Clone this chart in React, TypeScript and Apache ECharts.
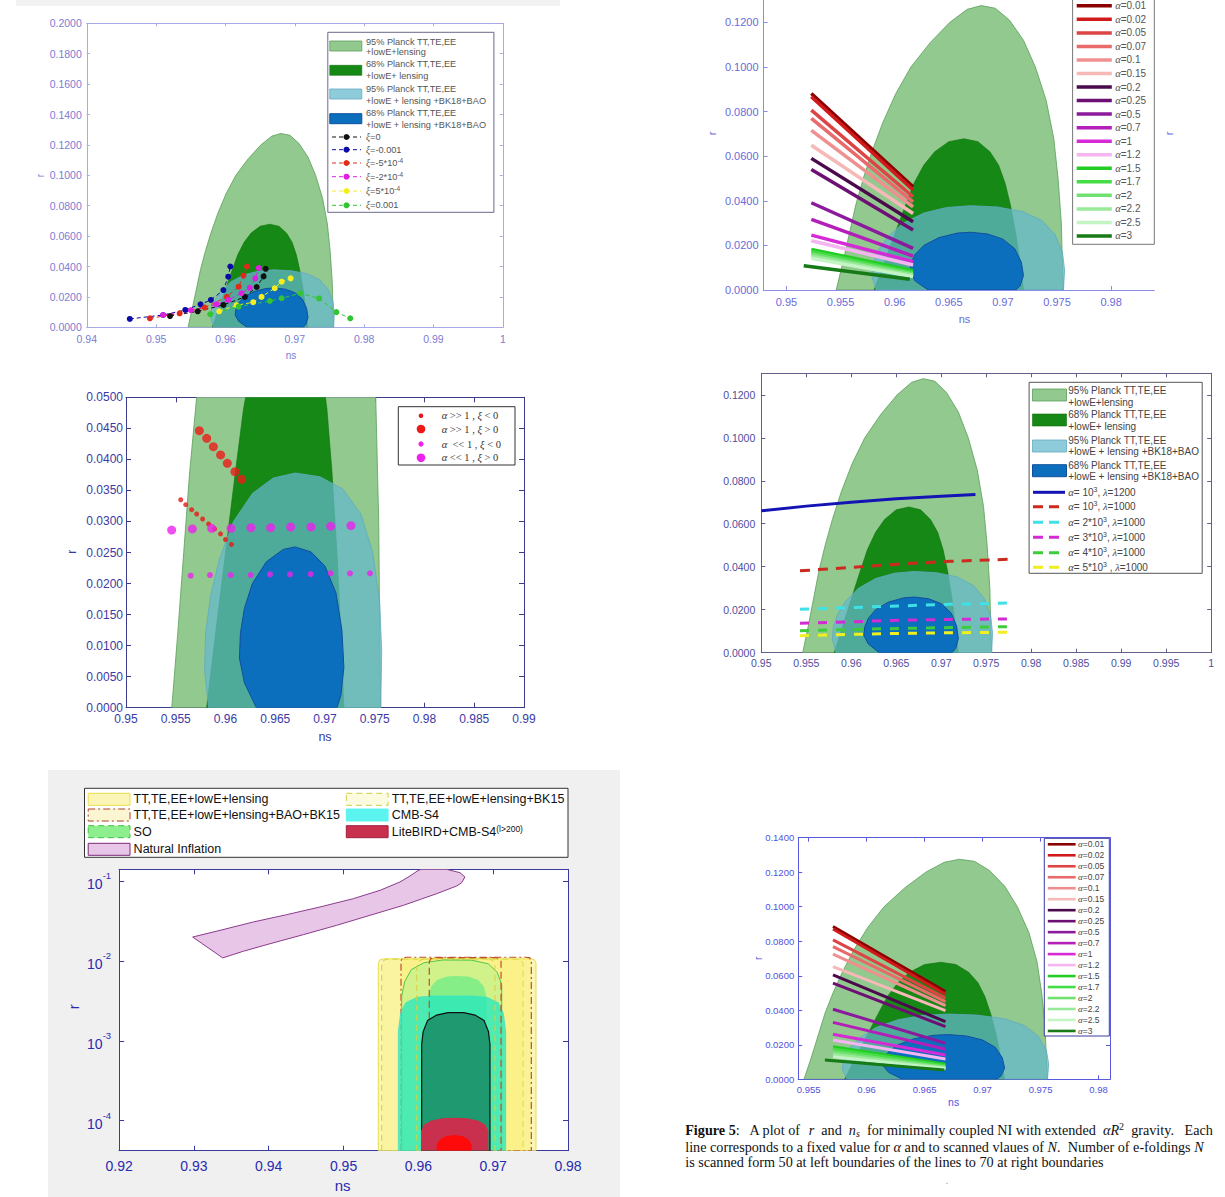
import React, { useEffect, useRef } from "react";
import * as echarts from "echarts";

type P = [number, number];

// ---------- Planck contours (ns, r) ----------
const planckTT95: P[] = [[0.9546,0],[0.9552,0.012],[0.9558,0.025],[0.9564,0.038],[0.9571,0.050],[0.9579,0.062],[0.9589,0.075],[0.9601,0.088],[0.9615,0.100],[0.9633,0.111],[0.9651,0.120],[0.9667,0.1258],[0.9680,0.1275],[0.9693,0.1263],[0.9706,0.121],[0.9719,0.112],[0.9730,0.100],[0.9740,0.085],[0.9747,0.068],[0.9751,0.050],[0.9754,0.030],[0.9755,0.012],[0.9756,0]];
const planckTT68: P[] = [[0.9581,0],[0.9590,0.012],[0.9600,0.025],[0.9610,0.038],[0.9618,0.048],[0.9627,0.056],[0.9637,0.062],[0.9650,0.0665],[0.9664,0.0678],[0.9677,0.0665],[0.9688,0.062],[0.9696,0.056],[0.9702,0.048],[0.9707,0.038],[0.9712,0.025],[0.9716,0.012],[0.9719,0]];
const planckBK95: P[] = [[0.9583,0],[0.9579,0.006],[0.9580,0.012],[0.9585,0.018],[0.9594,0.024],[0.9608,0.030],[0.9627,0.0345],[0.9648,0.0370],[0.9670,0.0378],[0.9695,0.0372],[0.9718,0.0352],[0.9736,0.0312],[0.9748,0.0250],[0.9755,0.0170],[0.9757,0.0090],[0.9756,0]];
const planckBK68: P[] = [[0.9631,0],[0.9619,0.004],[0.9614,0.008],[0.9615,0.012],[0.9619,0.016],[0.9627,0.020],[0.9641,0.0235],[0.9658,0.0255],[0.9670,0.0259],[0.9686,0.0251],[0.9700,0.0228],[0.9711,0.0185],[0.9717,0.0125],[0.9719,0.0065],[0.9716,0.002],[0.9712,0]];

// ---------- Panel A (xi) ----------
const xiZero: P[] = [[0.9520,0.0074],[0.9560,0.0105],[0.9597,0.0147],[0.9628,0.0200],[0.9645,0.0265],[0.9655,0.0335],[0.9658,0.0385]];
const xiM001: P[] = [[0.9462,0.0055],[0.9510,0.0081],[0.9542,0.0114],[0.9564,0.0151],[0.9579,0.0180],[0.9597,0.0245],[0.9604,0.0333],[0.9607,0.0400]];
const xiM5e4: P[] = [[0.9491,0.0059],[0.9534,0.0092],[0.9570,0.0130],[0.9602,0.0200],[0.9619,0.0267],[0.9626,0.0340],[0.9631,0.0400]];
const xiM2e4: P[] = [[0.9510,0.0081],[0.9550,0.0112],[0.9587,0.0151],[0.9604,0.0180],[0.9623,0.0224],[0.9635,0.0260],[0.9643,0.0322],[0.9648,0.0390]];
const xiP5e4: P[] = [[0.9591,0.0105],[0.9616,0.0145],[0.9640,0.0165],[0.9652,0.0200],[0.9671,0.0257],[0.9681,0.0300],[0.9694,0.0322]];
const xiP001: P[] = [[0.9578,0.0086],[0.9619,0.0136],[0.9664,0.0173],[0.9681,0.0191],[0.9708,0.0224],[0.9735,0.0190],[0.9760,0.0100],[0.9780,0.0059]];
const xiSeries = [xiZero, xiM001, xiM5e4, xiM2e4, xiP5e4, xiP001];
const xiColors = ["#111111", "#0a0aa8", "#e02a1a", "#e020e0", "#f2ee20", "#33c433"];
const xiLabels = ["{i|ξ}=0", "{i|ξ}=-0.001", "{i|ξ}=-5*10{s|-4}", "{i|ξ}=-2*10{s|-4}", "{i|ξ}=5*10{s|-4}", "{i|ξ}=0.001"];

// ---------- Panels B and F (alpha R^2 lines) ----------
const alphaLabels = ["0.01","0.02","0.05","0.07","0.1","0.15","0.2","0.25","0.5","0.7","1","1.2","1.5","1.7","2","2.2","2.5","3"];
const alphaColors = ["#8b0000","#d11a1a","#dd4444","#e86a6a","#f08f8f","#f7b8b8","#4b0a4b","#6e0f73","#8c1a9c","#b31fb8","#d62ad6","#f5b5f0","#22cc22","#45dd45","#70e070","#98ea98","#c4f4c4","#167a16"];
const bNsStart = [0.9523,0.9523,0.9523,0.9523,0.9523,0.9523,0.9523,0.9523,0.9523,0.9523,0.9523,0.9523,0.9523,0.9523,0.9523,0.9523,0.9523,0.9516];
const bNsEnd = [0.9617,0.9617,0.9617,0.9617,0.9617,0.9617,0.9617,0.9617,0.9617,0.9617,0.9617,0.9617,0.9617,0.9617,0.9617,0.9617,0.9617,0.9614];
const bRStart = [0.0881,0.0866,0.0806,0.0769,0.0716,0.0649,0.0590,0.0540,0.0391,0.0317,0.0246,0.0221,0.0182,0.0172,0.0161,0.0152,0.0142,0.0109];
const bREnd = [0.0463,0.0448,0.0418,0.0395,0.0373,0.0343,0.0306,0.0269,0.0187,0.0152,0.0127,0.0112,0.0087,0.0078,0.0072,0.0066,0.0060,0.0048];
const fNsStart = [0.9571,0.9571,0.9571,0.9571,0.9571,0.9571,0.9571,0.9571,0.9571,0.9571,0.9571,0.9571,0.9571,0.9571,0.9571,0.9571,0.9571,0.9564];
const fNsEnd = [0.9668,0.9668,0.9668,0.9668,0.9668,0.9668,0.9668,0.9668,0.9668,0.9668,0.9668,0.9668,0.9668,0.9668,0.9668,0.9668,0.9668,0.9667];
const fRStart = [0.0885,0.0871,0.0808,0.0769,0.0725,0.0653,0.0605,0.0557,0.0406,0.0330,0.0261,0.0228,0.0189,0.0176,0.0160,0.0145,0.0131,0.0112];
const fREnd = [0.0508,0.0493,0.0470,0.0450,0.0427,0.0398,0.0334,0.0305,0.0209,0.0174,0.0141,0.0118,0.0087,0.0079,0.0071,0.0067,0.0061,0.0054];

// ---------- Panel C (points) ----------
const cRedSmallNs = [0.9555,0.9560,0.9566,0.9571,0.9577,0.9583,0.9589,0.9595,0.9600,0.9606];
const cRedSmallR = [0.0335,0.0327,0.0319,0.0312,0.0304,0.0296,0.0288,0.0280,0.0271,0.0263];
const cRedBigNs = [0.95737,0.95811,0.95878,0.95951,0.96018,0.96095,0.96162];
const cRedBigR = [0.04462,0.04339,0.04205,0.04071,0.03937,0.03802,0.03679];
const cMagSmallNs = [0.9565,0.95844,0.96052,0.96253,0.96447,0.96648,0.96856,0.97057,0.97251,0.97452];
const cMagSmallR = [0.02126,0.02137,0.02137,0.02137,0.02148,0.02148,0.02153,0.02164,0.02164,0.02164];
const cMagBigNs = [0.95459,0.95667,0.95861,0.96055,0.96256,0.96454,0.96655,0.96859,0.97057,0.97261];
const cMagBigR = [0.02862,0.02879,0.0289,0.0289,0.0290,0.0290,0.02911,0.02911,0.02922,0.02932];

// ---------- Panel D (lambda lines) ----------
const dBlueNs = [0.950,0.955,0.960,0.965,0.970,0.9738];
const dBlueR = [0.0660,0.0682,0.0700,0.0716,0.0728,0.0736];
const dNs = [0.9543,0.960,0.9655,0.971,0.9776];
const dRed = [0.0381,0.0397,0.0413,0.0425,0.0435];
const dCyan = [0.0202,0.0210,0.0218,0.0225,0.0231];
const dMag = [0.0137,0.0144,0.0151,0.0155,0.0157];
const dGreen = [0.0102,0.0108,0.0113,0.0117,0.0121];
const dYellow = [0.0079,0.0085,0.0090,0.0093,0.0095];

// ---------- Panel E (log r) ----------
const eLens95: P[] = [[0.95465,4.2e-5],[0.95465,0.0095],[0.95485,0.0103],[0.95535,0.0106],[0.97502,0.0106],[0.97552,0.0103],[0.97572,0.0095],[0.97572,4.2e-5]];
const eBk95: P[] = [[0.9551,4.2e-5],[0.9551,0.0092],[0.9553,0.0101],[0.9558,0.0105],[0.9733,0.0105],[0.9738,0.0101],[0.9740,0.0092],[0.9740,4.2e-5]];
const eBao95: P[] = [[0.95768,4.2e-5],[0.95768,0.0100],[0.95790,0.0109],[0.95840,0.0111],[0.97440,0.0111],[0.97490,0.0109],[0.97510,0.0100],[0.97510,4.2e-5]];
const eBk68: P[] = [[0.95978,4.2e-5],[0.95978,0.0085],[0.96010,0.0100],[0.96080,0.0107],[0.96940,0.0107],[0.97000,0.0100],[0.97024,0.0085],[0.97024,4.2e-5]];
const eBao68: P[] = [[0.96146,4.2e-5],[0.96146,0.0098],[0.96170,0.0107],[0.96220,0.0110],[0.97040,0.0110],[0.97085,0.0107],[0.97105,0.0098],[0.97105,4.2e-5]];
const eSO95: P[] = [[0.95777,4.2e-5],[0.95777,0.0036],[0.95817,0.0055],[0.95907,0.0078],[0.96077,0.0095],[0.96327,0.01026],[0.96714,0.0102],[0.96934,0.0092],[0.97054,0.0072],[0.97114,0.0050],[0.97114,4.2e-5]];
const eSO68: P[] = [[0.96133,4.2e-5],[0.96133,0.0035],[0.96173,0.0048],[0.96253,0.0058],[0.96383,0.0064],[0.96523,0.00647],[0.96663,0.0064],[0.96793,0.0058],[0.96873,0.0048],[0.96913,0.0035],[0.96913,4.2e-5]];
const eS495: P[] = [[0.95732,4.2e-5],[0.95732,0.0013],[0.95762,0.0022],[0.95832,0.0030],[0.95982,0.0035],[0.96182,0.00364],[0.96717,0.00364],[0.96917,0.0035],[0.97067,0.0030],[0.97137,0.0022],[0.97167,0.0013],[0.97167,4.2e-5]];
const eS468: P[] = [[0.96044,4.2e-5],[0.96044,0.0009],[0.96064,0.0013],[0.96124,0.0018],[0.96244,0.0021],[0.96394,0.00225],[0.96607,0.00225],[0.96757,0.0021],[0.96877,0.0018],[0.96937,0.0013],[0.96957,0.0009],[0.96957,4.2e-5]];
const eLB95: P[] = [[0.96035,4.2e-5],[0.96035,7.5e-5],[0.96075,8.9e-5],[0.96165,1.0e-4],[0.96315,1.07e-4],[0.96485,1.09e-4],[0.96655,1.07e-4],[0.96805,1.0e-4],[0.96895,8.9e-5],[0.96935,7.5e-5],[0.96935,4.2e-5]];
const eLB68: P[] = [[0.96245,4.2e-5],[0.96245,5.0e-5],[0.96285,5.8e-5],[0.96365,6.4e-5],[0.96479,6.6e-5],[0.96593,6.4e-5],[0.96673,5.8e-5],[0.96713,5.0e-5],[0.96713,4.2e-5]];
const eNatural: P[] = [[0.92983,0.0199],[0.93349,0.0241],[0.93794,0.0307],[0.94240,0.0379],[0.94685,0.0473],[0.95131,0.0601],[0.95487,0.0764],[0.95754,0.0972],[0.95888,0.1155],[0.96000,0.1360],[0.96040,0.1401],[0.96378,0.1401],[0.96557,0.1270],[0.96623,0.1122],[0.96579,0.0953],[0.96512,0.0866],[0.96245,0.0694],[0.95799,0.0496],[0.95354,0.0372],[0.94909,0.0279],[0.94462,0.0213],[0.94017,0.0164],[0.93660,0.0132],[0.93385,0.0109]];

// ---------- tick labels ----------
const ticksAx = [0.94,0.95,0.96,0.97,0.98,0.99,1];
const ticksAy = [0,0.02,0.04,0.06,0.08,0.1,0.12,0.14,0.16,0.18,0.2];
const ticksBx = [0.95,0.955,0.96,0.965,0.97,0.975,0.98];
const ticksBy = [0,0.02,0.04,0.06,0.08,0.1,0.12];
const ticksCx = [0.95,0.955,0.96,0.965,0.97,0.975,0.98,0.985,0.99];
const ticksCy = [0,0.005,0.01,0.015,0.02,0.025,0.03,0.035,0.04,0.045,0.05];
const ticksDx = [0.95,0.955,0.96,0.965,0.97,0.975,0.98,0.985,0.99,0.995,1];
const ticksDy = [0,0.02,0.04,0.06,0.08,0.1,0.12];
const ticksEx = [0.92,0.93,0.94,0.95,0.96,0.97,0.98];
const ticksFx = [0.955,0.96,0.965,0.97,0.975,0.98];
const ticksFy = [0,0.02,0.04,0.06,0.08,0.1,0.12,0.14];

const SANS = "'Liberation Sans', Arial, sans-serif";
const SERIF = "'Liberation Serif', 'DejaVu Serif', serif";

const C95 = { fill: "#92c98e", stroke: "#5a9e5a", lineWidth: 0.8 };
const C68 = { fill: "#168816", stroke: "#0f700f", lineWidth: 0.6 };
const CB95 = { fill: "rgba(100,185,205,0.72)", stroke: "#62aac2", lineWidth: 0.8 };
const CB68 = { fill: "#0b6fbd", stroke: "#114f9e", lineWidth: 1 };

const fmtX = (v: number) => String(parseFloat(Number(v).toFixed(4)));
const fmtY4 = (v: number) => Number(v).toFixed(4);

function mkAxes(p: number, s: any) {
  const line = { show: true, onZero: false, lineStyle: { color: s.axisColor, width: 1 } };
  const tick = (vals: any) => {
    const t: any = { show: true, inside: true, length: s.tickLen, lineStyle: { color: s.axisColor, width: 1 } };
    if (vals) t.customValues = vals;
    return t;
  };
  const lab = (vals: any, fmt: any, margin: number) => {
    const l: any = { show: true, color: s.labelColor, fontSize: s.fontSize, fontFamily: SANS, margin, formatter: fmt };
    if (vals) l.customValues = vals;
    if (s.rich) l.rich = s.rich;
    return l;
  };
  const base = { gridIndex: p, splitLine: { show: false } };
  const xb: any = { ...base, type: "value", position: "bottom", min: s.xmin, max: s.xmax, axisLine: line, axisTick: tick(s.xt), axisLabel: lab(s.xt, fmtX, s.xMargin) };
  const xt: any = { ...base, type: "value", position: "top", min: s.xmin, max: s.xmax, show: s.box, axisLine: line, axisTick: tick(s.xt), axisLabel: { show: false } };
  const yType = s.ylog ? { type: "log", logBase: 10 } : { type: "value" };
  const yl: any = { ...base, ...yType, position: "left", min: s.ymin, max: s.ymax, axisLine: line, axisTick: tick(s.ylog ? null : s.yt), axisLabel: lab(s.ylog ? null : s.yt, s.yfmt || fmtY4, s.yMargin) };
  const yr: any = { ...base, ...yType, position: "right", min: s.ymin, max: s.ymax, show: s.box, axisLine: line, axisTick: tick(s.ylog ? null : s.yt), axisLabel: { show: false } };
  return { x: [xb, xt], y: [yl, yr] };
}

function poly(p: number, pts: P[], style: any, z = 2) {
  return {
    type: "custom", xAxisIndex: 2 * p, yAxisIndex: 2 * p, clip: true, silent: true, z,
    data: [[pts[0][0], pts[0][1]]],
    renderItem: (_params: any, api: any) => ({
      type: "polygon",
      shape: { points: pts.map((q) => api.coord(q)) },
      style,
    }),
  };
}

function planck(p: number) {
  return [poly(p, planckTT95, C95, 1), poly(p, planckTT68, C68, 1), poly(p, planckBK95, CB95, 1), poly(p, planckBK68, CB68, 1)];
}

function lineS(p: number, data: any[], color: string, width: number, type: any = "solid", extra: any = {}) {
  return {
    type: "line", xAxisIndex: 2 * p, yAxisIndex: 2 * p, data, silent: true, z: 5,
    symbol: "none", showSymbol: false,
    lineStyle: { color, width, type, cap: "butt" },
    ...extra,
  };
}

function zip(a: number[], b: number[]) {
  return a.map((v, i) => [v, b[i]]);
}

// ---------- graphic helpers ----------
function txt(x: number, y: number, text: string, o: any = {}) {
  return {
    type: "text", x, y, z: 60, rotation: o.rot || 0, silent: true,
    style: {
      text, fill: o.fill || "#333", fontSize: o.size || 10, fontFamily: o.family || SANS,
      fontStyle: o.style || "normal", fontWeight: o.weight || "normal",
      align: o.align || "left", verticalAlign: "middle", lineHeight: o.lh, rich: o.rich,
    },
  };
}
function rect(x: number, y: number, w: number, h: number, style: any, z = 55) {
  return { type: "rect", z, silent: true, shape: { x, y, width: w, height: h }, style };
}
function seg(x1: number, y1: number, x2: number, y2: number, style: any, z = 58) {
  return { type: "line", z, silent: true, shape: { x1, y1, x2, y2 }, style };
}
function dot(cx: number, cy: number, r: number, fill: string, z = 59) {
  return { type: "circle", z, silent: true, shape: { cx, cy, r }, style: { fill } };
}

function buildOption() {
  const specs: any[] = [
    { xmin: 0.94, xmax: 1, ymin: 0, ymax: 0.2, xt: ticksAx, yt: ticksAy, axisColor: "#a9a9e6", labelColor: "#7c7cd2", fontSize: 10.5, tickLen: 3, xMargin: 6, yMargin: 5, box: true },
    { xmin: 0.94789, xmax: 0.98399, ymin: 0, ymax: 0.13, xt: ticksBx, yt: ticksBy, axisColor: "#8c8ce6", labelColor: "#6a6ad8", fontSize: 11, tickLen: 4, xMargin: 6, yMargin: 5, box: false },
    { xmin: 0.95, xmax: 0.99, ymin: 0, ymax: 0.05, xt: ticksCx, yt: ticksCy, axisColor: "#3c3c8c", labelColor: "#3a3aa6", fontSize: 12, tickLen: 5, xMargin: 5, yMargin: 3, box: true },
    { xmin: 0.95, xmax: 1, ymin: 0, ymax: 0.13, xt: ticksDx, yt: ticksDy, axisColor: "#606088", labelColor: "#4e4e9e", fontSize: 10.5, tickLen: 4, xMargin: 5, yMargin: 6, box: true },
    {
      xmin: 0.92, xmax: 0.98, ymin: 4.21e-5, ymax: 0.1401, ylog: true, xt: ticksEx, axisColor: "#3a3a9e", labelColor: "#2a2ab0", fontSize: 14, tickLen: 5, xMargin: 8, yMargin: 8, box: true,
      yfmt: (v: number) => {
        const e = Math.log10(v);
        const r = Math.round(e);
        return Math.abs(e - r) < 1e-6 ? "{b|10}{s|" + r + "}" : "";
      },
      rich: {
        b: { fontSize: 14, color: "#2a2ab0", fontFamily: SANS, lineHeight: 20, verticalAlign: "bottom" },
        s: { fontSize: 9.5, color: "#2a2ab0", fontFamily: SANS, lineHeight: 10, verticalAlign: "top" },
      },
    },
    { xmin: 0.9541, xmax: 0.98099, ymin: 0, ymax: 0.14, xt: ticksFx, yt: ticksFy, axisColor: "#5a5ae0", labelColor: "#5252de", fontSize: 9.5, tickLen: 4, xMargin: 5, yMargin: 4, box: true },
  ];
  const grids = [
    { left: 86.8, top: 23.3, width: 416, height: 304 },
    { left: 763.6, top: 0, width: 390.7, height: 290 },
    { left: 126, top: 397.3, width: 398, height: 310.4 },
    { left: 761.3, top: 373.3, width: 449.9, height: 279.4 },
    { left: 119.1, top: 869.3, width: 448.9, height: 281.4, show: true, backgroundColor: "#ffffff", borderWidth: 0 },
    { left: 798.2, top: 837.7, width: 311.8, height: 241.6 },
  ].map((g) => ({ ...g, containLabel: false, outerBoundsMode: "none" }));

  const xAxis: any[] = [];
  const yAxis: any[] = [];
  specs.forEach((s, p) => {
    const a = mkAxes(p, s);
    xAxis.push(...a.x);
    yAxis.push(...a.y);
  });

  const series: any[] = [];
  // Panel A
  series.push(...planck(0));
  xiSeries.forEach((d, i) => {
    series.push(lineS(0, d, xiColors[i], 1, [4, 3], { symbol: "circle", showSymbol: true, symbolSize: 6, itemStyle: { color: xiColors[i] } }));
  });
  // Panel B
  series.push(...planck(1));
  alphaColors.forEach((c, i) => {
    series.push(lineS(1, [[bNsStart[i], bRStart[i]], [bNsEnd[i], bREnd[i]]], c, 3.5));
  });
  // Panel C
  series.push(...planck(2));
  series.push({ type: "scatter", xAxisIndex: 4, yAxisIndex: 4, z: 5, silent: true, data: zip(cRedSmallNs, cRedSmallR), symbolSize: 5, itemStyle: { color: "#e8161a" } });
  series.push({ type: "scatter", xAxisIndex: 4, yAxisIndex: 4, z: 5, silent: true, data: zip(cRedBigNs, cRedBigR), symbolSize: 9, itemStyle: { color: "#ee1a1a" } });
  series.push({ type: "scatter", xAxisIndex: 4, yAxisIndex: 4, z: 5, silent: true, data: zip(cMagSmallNs, cMagSmallR), symbolSize: 6, itemStyle: { color: "#ee22ee" } });
  series.push({ type: "scatter", xAxisIndex: 4, yAxisIndex: 4, z: 5, silent: true, data: zip(cMagBigNs, cMagBigR), symbolSize: 9, itemStyle: { color: "#ee22ee" } });
  // Panel D
  series.push(...planck(3));
  series.push(lineS(3, zip(dBlueNs, dBlueR), "#1414b4", 3));
  series.push(lineS(3, zip(dNs, dRed), "#cc2a1e", 3, [10, 8]));
  series.push(lineS(3, zip(dNs, dCyan), "#3fe0e6", 3, [9, 9]));
  series.push(lineS(3, zip(dNs, dMag), "#d42ad4", 3, [9, 9]));
  series.push(lineS(3, zip(dNs, dGreen), "#3ccc3c", 3, [9, 9]));
  series.push(lineS(3, zip(dNs, dYellow), "#f0f020", 3, [9, 9]));
  // Panel E
  series.push(poly(4, eLens95, { fill: "#fbf6b8", stroke: "#e8de4a", lineWidth: 1 }, 1));
  series.push(poly(4, eBk95, { fill: "rgba(250,240,110,0.3)", stroke: "#cfd040", lineWidth: 1, lineDash: [6, 4] }, 1));
  series.push(poly(4, eBao95, { fill: "rgba(250,236,90,0.35)", stroke: "#c0502a", lineWidth: 1.2, lineDash: [7, 3, 2, 3] }, 1));
  series.push(poly(4, eSO95, { fill: "rgba(175,240,140,0.55)", stroke: "#50c850", lineWidth: 1 }, 1));
  series.push(poly(4, eSO68, { fill: "#86ee86" }, 1));
  series.push(poly(4, eS495, { fill: "rgba(40,232,190,0.78)", stroke: "rgba(60,225,200,0.9)", lineWidth: 0.8 }, 1));
  series.push(poly(4, eBk68, { fill: "none", stroke: "#d6d040", lineWidth: 1, lineDash: [6, 4] }, 1));
  series.push(poly(4, eBao68, { fill: "none", stroke: "#c0502a", lineWidth: 1.2, lineDash: [7, 4] }, 1));
  series.push(poly(4, eS468, { fill: "#1f9a70", stroke: "#101010", lineWidth: 1.2 }, 1));
  series.push(poly(4, eLB95, { fill: "#c8304e" }, 1));
  series.push(poly(4, eLB68, { fill: "#ff0a0a" }, 1));
  series.push(poly(4, eNatural, { fill: "#e8c6e8", stroke: "#8a3c8a", lineWidth: 1 }, 1));
  // Panel F
  series.push(...planck(5));
  alphaColors.forEach((c, i) => {
    series.push(lineS(5, [[fNsStart[i], fRStart[i]], [fNsEnd[i], fREnd[i]]], c, 3));
  });

  // ---------- graphics ----------
  const g: any[] = [];
  g.push(rect(16, 0, 544, 6, { fill: "#f2f2f2" }, -10));
  g.push(rect(48, 770, 572, 427, { fill: "#f0f0f0" }, -10));

  // axis names
  const rRot = Math.PI / 2;
  g.push(txt(40, 175.7, "r", { rot: rRot, fill: "#7c7cd2", size: 10, align: "center" }));
  g.push(txt(291, 355, "ns", { fill: "#7c7cd2", size: 10, align: "center" }));
  g.push(txt(711.7, 133.3, "r", { rot: rRot, fill: "#6a6ad8", size: 11, align: "center" }));
  g.push(txt(1168.7, 133.3, "r", { rot: rRot, fill: "#6a6ad8", size: 11, align: "center" }));
  g.push(txt(964.5, 319.3, "ns", { fill: "#6a6ad8", size: 11, align: "center" }));
  g.push(txt(71.7, 551.7, "r", { rot: rRot, fill: "#3a3aa6", size: 12, align: "center" }));
  g.push(txt(325, 736.7, "ns", { fill: "#3a3aa6", size: 12.5, align: "center" }));
  g.push(txt(73.6, 1006.7, "r", { rot: rRot, fill: "#2a2ab0", size: 15, align: "center" }));
  g.push(txt(342.6, 1185, "ns", { fill: "#2a2ab0", size: 15, align: "center" }));
  g.push(txt(758.2, 958.3, "r", { rot: rRot, fill: "#5252de", size: 10, align: "center" }));
  g.push(txt(953.6, 1101.7, "ns", { fill: "#5252de", size: 10.5, align: "center" }));

  // Patch legends (A and D)
  const patchFills = [C95, C68, { fill: CB95.fill, stroke: CB95.stroke, lineWidth: 0.8 }, CB68];
  const patchText = [
    ["95% Planck TT,TE,EE", "+lowE+lensing"],
    ["68% Planck TT,TE,EE", "+lowE+ lensing"],
    ["95% Planck TT,TE,EE", "+lowE + lensing +BK18+BAO"],
    ["68% Planck TT,TE,EE", "+lowE + lensing +BK18+BAO"],
  ];
  // Legend A
  g.push(rect(327.8, 32.3, 166.1, 180, { fill: "#fff", stroke: "#6a6a8a", lineWidth: 1 }));
  [46, 70.3, 94, 118.7].forEach((c, i) => {
    g.push(rect(329.8, c - 5, 32, 10, patchFills[i], 56));
  });
  [[41.7, 52.3], [64.3, 76], [89.3, 100.7], [112.7, 124.7]].forEach((ys, i) => {
    g.push(txt(366, ys[0], patchText[i][0], { size: 9.2, fill: "#555" }));
    g.push(txt(366, ys[1], patchText[i][1], { size: 9.2, fill: "#555" }));
  });
  const richA = {
    i: { fontFamily: SERIF, fontStyle: "italic", fontSize: 9.5, fill: "#555" },
    s: { fontSize: 6.5, fill: "#555", verticalAlign: "top", lineHeight: 7 },
  };
  [137, 149.7, 163, 176.7, 191, 205.3].forEach((y, i) => {
    g.push(seg(332, y, 361, y, { stroke: xiColors[i], lineWidth: 1, lineDash: [4, 3] }));
    g.push(dot(346.5, y, 3, xiColors[i]));
    g.push(txt(366, y, xiLabels[i], { size: 9.2, fill: "#555", rich: richA, lh: 12 }));
  });

  // Legend D
  g.push(rect(1029.1, 382.3, 173.1, 191, { fill: "#fff", stroke: "#555", lineWidth: 1 }));
  [395, 420, 446, 470.7].forEach((c, i) => {
    g.push(rect(1032.5, c - 6, 34, 12, patchFills[i], 56));
  });
  [[390, 402.3], [414.3, 426.7], [440, 451.7], [465, 476.7]].forEach((ys, i) => {
    g.push(txt(1068.3, ys[0], patchText[i][0], { size: 10, fill: "#444" }));
    g.push(txt(1068.3, ys[1], patchText[i][1], { size: 10, fill: "#444" }));
  });
  const dLegColors = ["#1414b4", "#cc2a1e", "#3fe0e6", "#d42ad4", "#3ccc3c", "#f0f020"];
  const dLegText = [
    "{i|α}= 10{s|3}, {i|λ}=1200",
    "{i|α}= 10{s|3}, {i|λ}=1000",
    "{i|α}= 2*10{s|3}, {i|λ}=1000",
    "{i|α}= 3*10{s|3}, {i|λ}=1000",
    "{i|α}= 4*10{s|3}, {i|λ}=1000",
    "{i|α}= 5*10{s|3} , {i|λ}=1000",
  ];
  const richD = {
    i: { fontFamily: SERIF, fontStyle: "italic", fontSize: 10.5, fill: "#444" },
    s: { fontSize: 7, fill: "#444", verticalAlign: "top", lineHeight: 7 },
  };
  [492.3, 506.7, 522.3, 537.3, 552.7, 567.3].forEach((y, i) => {
    g.push(seg(1033, y, 1065, y, { stroke: dLegColors[i], lineWidth: 3, lineDash: i === 0 ? null : [10, 6] }));
    g.push(txt(1068.3, y, dLegText[i], { size: 10, fill: "#444", rich: richD, lh: 13 }));
  });

  // Legend B (top entry kept inside the page)
  const richAl = (size: number, fill: string) => ({ a: { fontFamily: SERIF, fontStyle: "italic", fontSize: size, fill } });
  g.push(rect(1072.6, -5, 81.7, 249.3, { fill: "#fff", stroke: "#777", lineWidth: 1 }));
  alphaLabels.forEach((lab, i) => {
    const y = 5.8 + i * 13.54;
    g.push(seg(1076.7, y, 1111.8, y, { stroke: alphaColors[i], lineWidth: 3.5 }));
    g.push(txt(1115.2, y, "{a|α}=" + lab, { size: 10, fill: "#555", rich: richAl(10.5, "#555") }));
  });
  // Legend F
  g.push(rect(1044.3, 838.3, 65, 197.7, { fill: "#fff", stroke: "#3a3aa0", lineWidth: 1 }));
  alphaLabels.forEach((lab, i) => {
    const y = 844.3 + i * 10.98;
    g.push(seg(1047.8, y, 1075.6, y, { stroke: alphaColors[i], lineWidth: 2.6 }));
    g.push(txt(1078, y, "{a|α}=" + lab, { size: 8.5, fill: "#444", rich: richAl(9, "#444") }));
  });

  // Legend C
  g.push(rect(398.3, 406.7, 116.7, 58.3, { fill: "#fff", stroke: "#333", lineWidth: 1 }));
  const cLeg = [
    { y: 415.7, r: 2.3, c: "#e8161a", t: "{i|α} >> 1 , {i|ξ} < 0" },
    { y: 429, r: 4.3, c: "#ee1a1a", t: "{i|α} >> 1 , {i|ξ} > 0" },
    { y: 444, r: 2.6, c: "#ee22ee", t: "{i|α}  << 1 , {i|ξ} < 0" },
    { y: 457.7, r: 4.3, c: "#ee22ee", t: "{i|α} << 1 , {i|ξ} > 0" },
  ];
  const richC = { i: { fontFamily: SERIF, fontStyle: "italic", fontSize: 10.5, fill: "#333" } };
  cLeg.forEach((e) => {
    g.push(dot(421, e.y, e.r, e.c));
    g.push(txt(441.7, e.y, e.t, { size: 10.5, family: SERIF, fill: "#333", rich: richC }));
  });

  // Legend E
  g.push(rect(84.5, 788.3, 483.5, 69, { fill: "#fff", stroke: "#333", lineWidth: 1 }));
  const eLeg = [
    { x: 88.2, y: 799.3, fill: "#fbf6b8", stroke: "#e8de4a", dash: null, t: "TT,TE,EE+lowE+lensing" },
    { x: 88.2, y: 815, fill: "#fbf5d2", stroke: "#b04020", dash: [7, 3, 2, 3], t: "TT,TE,EE+lowE+lensing+BAO+BK15" },
    { x: 88.2, y: 831.7, fill: "#8cee8c", stroke: "#40c040", dash: [6, 4], t: "SO" },
    { x: 88.2, y: 849.3, fill: "#e8c6e8", stroke: "#7a2a7a", dash: null, t: "Natural Inflation" },
    { x: 346.3, y: 799.3, fill: "#fcfbe0", stroke: "#c8d040", dash: [6, 4], t: "TT,TE,EE+lowE+lensing+BK15" },
    { x: 346.3, y: 815, fill: "#5cf4ee", stroke: "#5cf4ee", dash: null, t: "CMB-S4" },
    { x: 346.3, y: 831.7, fill: "#c8304e", stroke: "#a02040", dash: null, t: "LiteBIRD+CMB-S4{s|(l>200)}" },
  ];
  const richE = { s: { fontSize: 8.5, fill: "#111", verticalAlign: "top", lineHeight: 9 } };
  eLeg.forEach((e) => {
    g.push(rect(e.x, e.y - 6, 41.8, 12, { fill: e.fill, stroke: e.stroke, lineWidth: 1, lineDash: e.dash }, 56));
    g.push(txt(e.x + 45.4, e.y, e.t, { size: 12.5, fill: "#111", rich: richE, lh: 15 }));
  });

  // Caption
  const CS = 14.2;
  const richCap = {
    b: { fontFamily: SERIF, fontWeight: "bold", fontSize: CS, fill: "#111" },
    i: { fontFamily: SERIF, fontStyle: "italic", fontSize: CS, fill: "#111" },
    sub: { fontFamily: SERIF, fontStyle: "italic", fontSize: 10, fill: "#111", verticalAlign: "bottom", lineHeight: 8 },
    sup: { fontFamily: SERIF, fontSize: 10, fill: "#111", verticalAlign: "top", lineHeight: 8 },
  };
  const cap = [
    "{b|Figure 5}:   A plot of  {i|r}  and  {i|n}{sub|s}  for minimally coupled NI with extended  {i|αR}{sup|2}  gravity.   Each",
    "line corresponds to a fixed value for {i|α} and to scanned vlaues of {i|N}.  Number of e-foldings {i|N}",
    "is scanned form 50 at left boundaries of the lines to 70 at right boundaries",
  ];
  [1130, 1146.7, 1162.3].forEach((y, i) => {
    g.push(txt(685.2, y, cap[i], { size: CS, family: SERIF, fill: "#111", rich: richCap, lh: 17 }));
  });
  g.push(txt(947, 1180, ".", { size: 10, fill: "#999", align: "center" }));

  return {
    animation: false,
    backgroundColor: "#ffffff",
    grid: grids,
    xAxis,
    yAxis,
    series,
    graphic: { elements: g },
  };
}

export default function App() {
  const ref = useRef<HTMLDivElement>(null);
  useEffect(() => {
    const chart = echarts.init(ref.current as HTMLDivElement, null, { renderer: "svg" });
    chart.setOption(buildOption() as any);
    return () => chart.dispose();
  }, []);
  return (
    <div
      ref={ref}
      style={{ position: "absolute", left: 0, top: 0, width: 1225, height: 1197, background: "#fff" }}
    />
  );
}
